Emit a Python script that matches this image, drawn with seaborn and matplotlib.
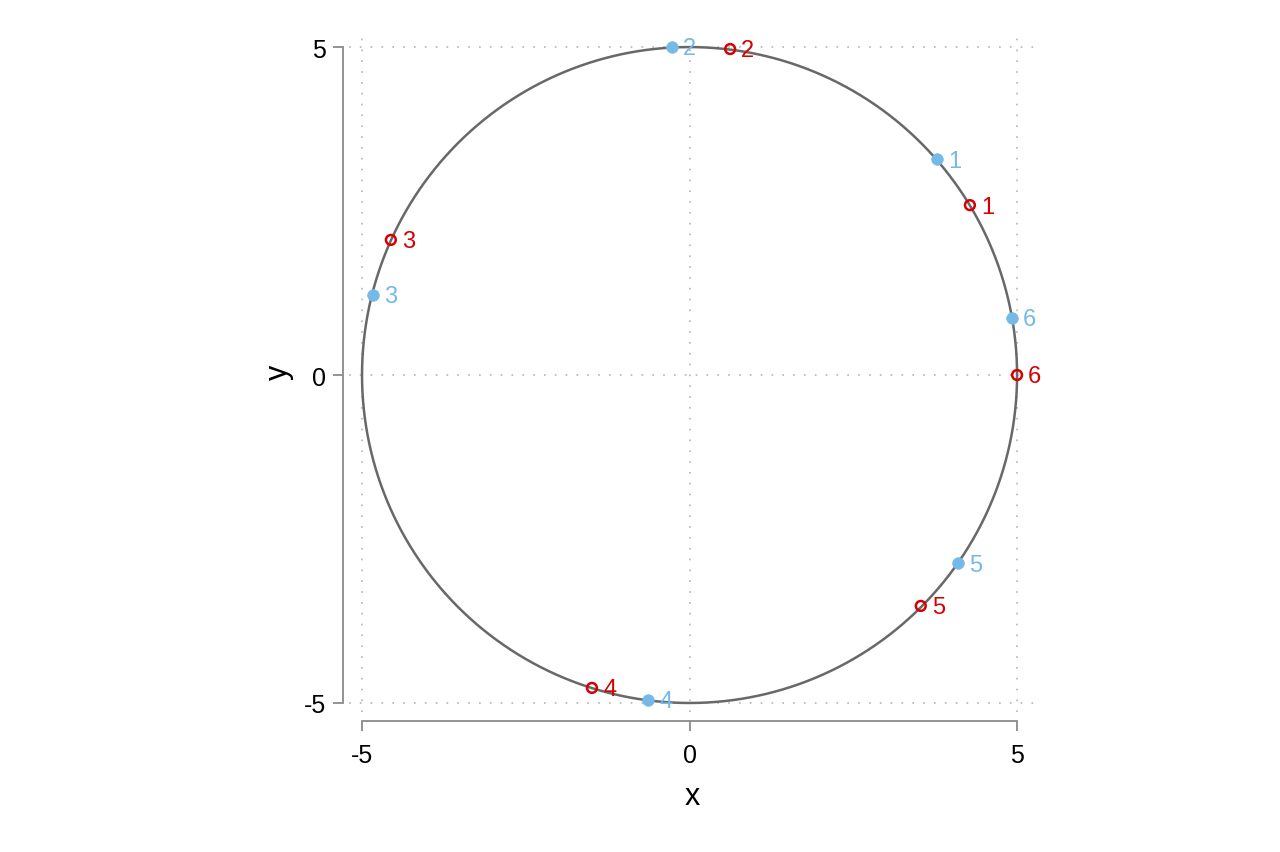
import numpy as np
import pandas as pd
import matplotlib
matplotlib.use('Agg')
import matplotlib.pyplot as plt
import seaborn as sns

# points
labels = ['1', '2', '3', '4', '5', '6']
blue_x = [3.78, -0.27, -4.83, -0.63, 4.10, 4.92]
blue_y = [3.29, 5.00, 1.22, -4.95, -2.87, 0.87]
red_x = [4.28, 0.62, -4.56, -1.49, 3.53, 5.00]
red_y = [2.59, 4.97, 2.06, -4.77, -3.52, 0.00]
radius = 5
ticks = [-5, 0, 5]

sns.set_style('white')
plt.rcParams['font.family'] = ['Liberation Sans Narrow', 'Liberation Sans', 'DejaVu Sans']

BLUE = '#74b9e7'
RED = '#d60000'
GRAY = '#8a8a8a'

fig = plt.figure(figsize=(12.8, 8.53), dpi=100)
ax = fig.add_axes([0.2726, 0.1647, 0.5358, 0.7974])

# circle x^2 + y^2 = r^2
t = np.linspace(0, 2 * np.pi, 721)
circ = pd.DataFrame({'x': radius * np.cos(t), 'y': radius * np.sin(t)})
sns.lineplot(data=circ, x='x', y='y', sort=False, estimator=None,
             color='#686868', linewidth=1.8, ax=ax, zorder=2)

blue = pd.DataFrame({'x': blue_x, 'y': blue_y, 'lab': labels})
red = pd.DataFrame({'x': red_x, 'y': red_y, 'lab': labels})

sns.scatterplot(data=blue, x='x', y='y', color=BLUE, s=70, edgecolor=BLUE,
                linewidth=0.5, ax=ax, zorder=3, clip_on=False)
sns.scatterplot(data=red, x='x', y='y', facecolor='none', edgecolor=RED, s=50,
                linewidth=1.8, ax=ax, zorder=4, clip_on=False)

for df, c in [(blue, BLUE), (red, RED)]:
    for _, r in df.iterrows():
        ax.annotate(r['lab'], (r['x'], r['y']), xytext=(8, -1),
                    textcoords='offset points', color=c, fontsize=17,
                    ha='left', va='center')

ax.set_xlim(-5.2, 5.27)
ax.set_ylim(-5.13, 5.24)
ax.set_aspect('auto')
ax.set_xticks(ticks)
ax.set_yticks(ticks)
ax.set_xticklabels([str(v) for v in ticks])
ax.set_yticklabels([str(v) for v in ticks])

ax.grid(True, color='#b5b5b5', linestyle=(0, (1, 5.5)), linewidth=1.2)
ax.set_axisbelow(True)

for s in ['top', 'right']:
    ax.spines[s].set_visible(False)
ax.spines['left'].set_position(('outward', 4.3))
ax.spines['bottom'].set_position(('outward', 6.8))
for s in ['left', 'bottom']:
    ax.spines[s].set_bounds(-5, 5)
    ax.spines[s].set_color(GRAY)
    ax.spines[s].set_linewidth(1.3)

ax.tick_params(axis='both', direction='out', length=7, width=1.3, color=GRAY,
               labelsize=18, labelcolor='black', left=True, bottom=True)
ax.tick_params(axis='y', pad=5)
ax.tick_params(axis='x', pad=9)

ax.set_xlabel('x', fontsize=22, labelpad=10, color='black')
ax.set_ylabel('y', fontsize=22, labelpad=7, color='black')

fig.savefig('out.png', dpi=100)
